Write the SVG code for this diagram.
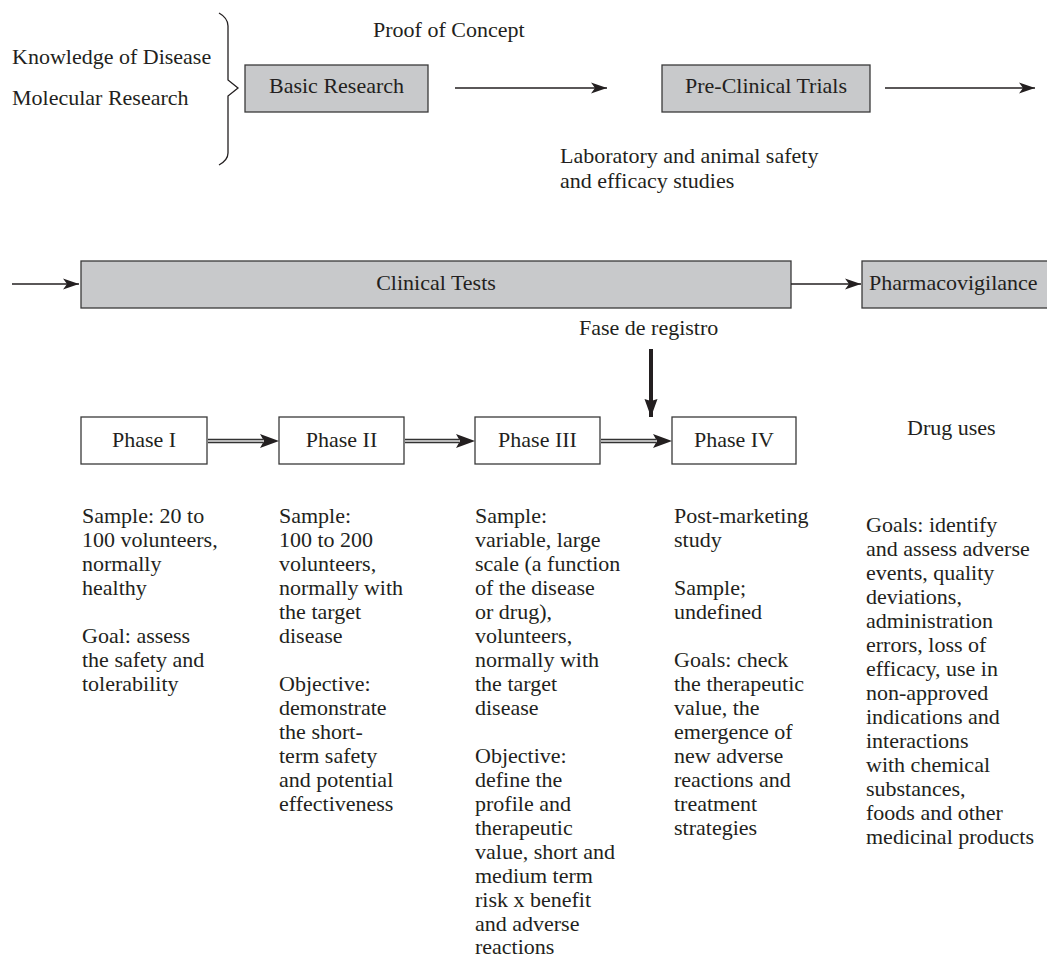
<svg xmlns="http://www.w3.org/2000/svg" width="1047" height="957" viewBox="0 0 1047 957">
<style>
text{font-family:"Liberation Serif","Times New Roman",serif;font-size:22px;fill:#231f20}
.mid{text-anchor:middle}
.gbox{fill:#c8c9cb;stroke:#3a3a3a;stroke-width:1.3}
.wbox{fill:#fff;stroke:#3a3a3a;stroke-width:1.3}
.thin{stroke:#231f20;stroke-width:1.3;fill:none}
.dbl-o{stroke:#333;stroke-width:4.5;fill:none}
.dbl-i{stroke:#b8b8b8;stroke-width:1.8;fill:none}
</style>
<defs>
<marker id="ah" markerUnits="userSpaceOnUse" markerWidth="18" markerHeight="12" viewBox="0 -6 18 12" refX="16" refY="0" orient="auto">
<path d="M0,-5.5 L16,0 L0,5.5 L4,0 z" fill="#231f20"/>
</marker>
<marker id="ahb" markerUnits="userSpaceOnUse" markerWidth="20" markerHeight="16" viewBox="0 -8 20 16" refX="19" refY="0" orient="auto">
<path d="M0,-7 L19,0 L0,7 L4,0 z" fill="#231f20"/>
</marker>
<marker id="ahk" markerUnits="userSpaceOnUse" markerWidth="20" markerHeight="16" viewBox="0 -8 20 16" refX="18" refY="0" orient="auto">
<path d="M0,-6.5 L18,0 L0,6.5 L2,0 z" fill="#231f20"/>
</marker>
</defs>

<g id="inputs">
<text x="12" y="64">Knowledge of Disease</text>
<text x="12" y="105">Molecular Research</text>
<path class="thin" d="M219,13 Q228,18 228,26 L228,80 L238,88 L228,96 L228,153 Q228,160 219,165"/>
</g>
<text x="373" y="37">Proof of Concept</text>

<g id="basic-research">
<rect class="gbox" x="245" y="65" width="183" height="47"/>
<text class="mid" x="336.5" y="93">Basic Research</text>
</g>

<g id="pre-clinical">
<rect class="gbox" x="662" y="65" width="208" height="47"/>
<text class="mid" x="766" y="93">Pre-Clinical Trials</text>
</g>
<text x="560" y="163">Laboratory and animal safety</text>
<text x="560" y="188">and efficacy studies</text>

<g id="clinical-tests">
<rect class="gbox" x="81" y="261" width="710" height="47"/>
<text class="mid" x="436" y="290">Clinical Tests</text>
</g>

<g id="pharmacovigilance">
<rect class="gbox" x="862" y="261" width="200" height="47"/>
<text x="869" y="290">Pharmacovigilance</text>
</g>
<text x="579" y="335">Fase de registro</text>
<text x="907" y="435">Drug uses</text>

<g id="phase1">
<rect class="wbox" x="81" y="417" width="126" height="47"/>
<text class="mid" x="144" y="447">Phase I</text>
</g>
<g id="phase2">
<rect class="wbox" x="279" y="417" width="125" height="47"/>
<text class="mid" x="341.5" y="447">Phase II</text>
</g>
<g id="phase3">
<rect class="wbox" x="475" y="417" width="125" height="47"/>
<text class="mid" x="537.5" y="447">Phase III</text>
</g>
<g id="phase4">
<rect class="wbox" x="672" y="417" width="124" height="47"/>
<text class="mid" x="734" y="447">Phase IV</text>
</g>

<g id="connectors">
<line class="thin" x1="455" y1="88" x2="607" y2="88" marker-end="url(#ah)"/>
<line class="thin" x1="885" y1="88" x2="1035" y2="88" marker-end="url(#ah)"/>
<line class="thin" x1="12" y1="284" x2="79" y2="284" marker-end="url(#ah)"/>
<line class="thin" x1="791" y1="284" x2="861" y2="284" marker-end="url(#ah)"/>
<line x1="651" y1="349" x2="651" y2="417" stroke="#231f20" stroke-width="4" marker-end="url(#ahk)"/>
<line class="dbl-o" x1="208" y1="441" x2="263" y2="441"/>
<line class="dbl-i" x1="208" y1="441" x2="263" y2="441"/>
<line x1="262" y1="441" x2="279" y2="441" stroke="none" marker-end="url(#ahb)"/>
<line class="dbl-o" x1="405" y1="441" x2="459" y2="441"/>
<line class="dbl-i" x1="405" y1="441" x2="459" y2="441"/>
<line x1="458" y1="441" x2="475" y2="441" stroke="none" marker-end="url(#ahb)"/>
<line class="dbl-o" x1="601" y1="441" x2="656" y2="441"/>
<line class="dbl-i" x1="601" y1="441" x2="656" y2="441"/>
<line x1="655" y1="441" x2="672" y2="441" stroke="none" marker-end="url(#ahb)"/>
</g>

<g id="phase1-text">
<text x="82" y="523">Sample: 20 to</text>
<text x="82" y="547">100 volunteers,</text>
<text x="82" y="571">normally</text>
<text x="82" y="595">healthy</text>
<text x="82" y="643">Goal: assess</text>
<text x="82" y="667">the safety and</text>
<text x="82" y="691">tolerability</text>
</g>
<g id="phase2-text">
<text x="279" y="523">Sample:</text>
<text x="279" y="547">100 to 200</text>
<text x="279" y="571">volunteers,</text>
<text x="279" y="595">normally with</text>
<text x="279" y="619">the target</text>
<text x="279" y="643">disease</text>
<text x="279" y="691">Objective:</text>
<text x="279" y="715">demonstrate</text>
<text x="279" y="739">the short-</text>
<text x="279" y="763">term safety</text>
<text x="279" y="787">and potential</text>
<text x="279" y="811">effectiveness</text>
</g>
<g id="phase3-text">
<text x="475" y="523">Sample:</text>
<text x="475" y="547">variable, large</text>
<text x="475" y="571">scale (a function</text>
<text x="475" y="595">of the disease</text>
<text x="475" y="619">or drug),</text>
<text x="475" y="643">volunteers,</text>
<text x="475" y="667">normally with</text>
<text x="475" y="691">the target</text>
<text x="475" y="715">disease</text>
<text x="475" y="763">Objective:</text>
<text x="475" y="787">define the</text>
<text x="475" y="811">profile and</text>
<text x="475" y="835">therapeutic</text>
<text x="475" y="859">value, short and</text>
<text x="475" y="883">medium term</text>
<text x="475" y="907">risk x benefit</text>
<text x="475" y="931">and adverse</text>
<text x="475" y="954">reactions</text>
</g>
<g id="phase4-text">
<text x="674" y="523">Post-marketing</text>
<text x="674" y="547">study</text>
<text x="674" y="595">Sample;</text>
<text x="674" y="619">undefined</text>
<text x="674" y="667">Goals: check</text>
<text x="674" y="691">the therapeutic</text>
<text x="674" y="715">value, the</text>
<text x="674" y="739">emergence of</text>
<text x="674" y="763">new adverse</text>
<text x="674" y="787">reactions and</text>
<text x="674" y="811">treatment</text>
<text x="674" y="835">strategies</text>
</g>
<g id="pharmaco-text">
<text x="866" y="532">Goals: identify</text>
<text x="866" y="556">and assess adverse</text>
<text x="866" y="580">events, quality</text>
<text x="866" y="604">deviations,</text>
<text x="866" y="628">administration</text>
<text x="866" y="652">errors, loss of</text>
<text x="866" y="676">efficacy, use in</text>
<text x="866" y="700">non-approved</text>
<text x="866" y="724">indications and</text>
<text x="866" y="748">interactions</text>
<text x="866" y="772">with chemical</text>
<text x="866" y="796">substances,</text>
<text x="866" y="820">foods and other</text>
<text x="866" y="844">medicinal products</text>
</g>
</svg>
